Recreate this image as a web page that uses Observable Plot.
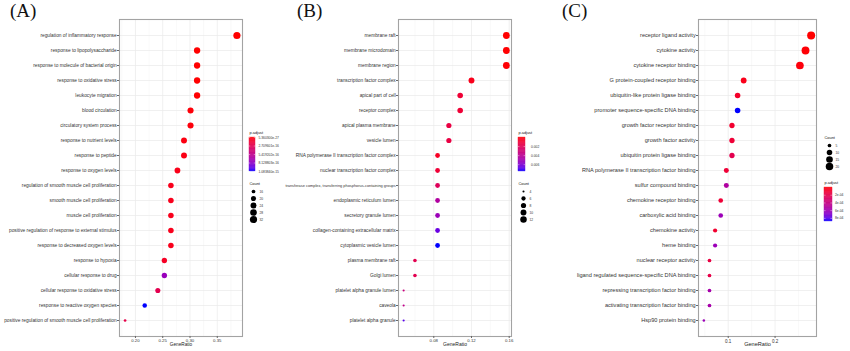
<!DOCTYPE html>
<html><head><meta charset="utf-8">
<script src="https://cdn.jsdelivr.net/npm/d3@7"></script>
<script src="https://cdn.jsdelivr.net/npm/@observablehq/plot@0.6"></script>
<style>
html,body{margin:0;padding:0;background:#fff;}
#root{position:relative;width:850px;height:351px;overflow:hidden;background:#fff;}
#root svg{position:absolute;}
.tag{position:absolute;font-family:"Liberation Serif","Times New Roman",serif;font-size:19px;line-height:normal;color:#111;white-space:nowrap;}
</style></head><body><div id="root"></div>
<script>
// ---------- Panel A: biological process ----------
const termsA = ["regulation of inflammatory response","response to lipopolysaccharide","response to molecule of bacterial origin","response to oxidative stress","leukocyte migration","blood circulation","circulatory system process","response to nutrient levels","response to peptide","response to oxygen levels","regulation of smooth muscle cell proliferation","smooth muscle cell proliferation","muscle cell proliferation","positive regulation of response to external stimulus","response to decreased oxygen levels","response to hypoxia","cellular response to drug","cellular response to oxidative stress","response to reactive oxygen species","positive regulation of smooth muscle cell proliferation"];
const ratioA = [0.386,0.313,0.313,0.313,0.313,0.301,0.301,0.289,0.289,0.277,0.265,0.265,0.265,0.265,0.265,0.253,0.253,0.241,0.217,0.181];
const countA = [32,26,26,26,26,25,25,24,24,23,22,22,22,22,22,21,21,20,18,15];
const padjA = [5.3603e-27,1e-20,1e-19,2e-18,3e-18,1.5e-17,2e-17,3e-17,4e-17,5e-17,6e-17,6e-17,6e-17,6e-17,6e-17,9e-17,7.8e-16,2.7e-16,1.0838404e-15,2.4e-16];
const xTicksA = [0.20,0.25,0.30,0.35];
const xMinorA = [0.175,0.225,0.275,0.325,0.375];
const sizeBreaksA = [16,20,24,28,32];
const colorTicksA = [5.3603e-27,2.709601e-16,5.419202e-16,8.128803e-16,1.0838404e-15];
const colorLabelsA = ["5.360300e-27","2.709601e-16","5.419202e-16","8.128803e-16","1.083840e-15"];

// ---------- Panel B: cellular component ----------
const termsB = ["membrane raft","membrane microdomain","membrane region","transcription factor complex","apical part of cell","receptor complex","apical plasma membrane","vesicle lumen","RNA polymerase II transcription factor complex","nuclear transcription factor complex","transferase complex, transferring phosphorus-containing groups","endoplasmic reticulum lumen","secretory granule lumen","collagen-containing extracellular matrix","cytoplasmic vesicle lumen","plasma membrane raft","Golgi lumen","platelet alpha granule lumen","caveola","platelet alpha granule"];
const ratioB = [0.157,0.157,0.157,0.120,0.108,0.108,0.096,0.096,0.084,0.084,0.084,0.084,0.084,0.084,0.084,0.060,0.060,0.048,0.048,0.048];
const countB = [13,13,13,10,9,9,8,8,7,7,7,7,7,7,7,5,5,4,4,4];
const padjB = [0.00001,0.00003,0.00006,0.0004,0.0011,0.0011,0.0015,0.0015,0.0006,0.0011,0.0022,0.0045,0.0053,0.0066,0.0075,0.0019,0.0019,0.0034,0.0038,0.0069];
const xTicksB = [0.08,0.12,0.16];
const xMinorB = [0.06,0.10,0.14];
const sizeBreaksB = [4,6,8,10,12];
const colorTicksB = [0.002,0.004,0.006];
const colorLabelsB = ["0.002","0.004","0.006"];

// ---------- Panel C: molecular function ----------
const termsC = ["receptor ligand activity","cytokine activity","cytokine receptor binding","G protein-coupled receptor binding","ubiquitin-like protein ligase binding","promoter sequence-specific DNA binding","growth factor receptor binding","growth factor activity","ubiquitin protein ligase binding","RNA polymerase II transcription factor binding","sulfur compound binding","chemokine receptor binding","carboxylic acid binding","chemokine activity","heme binding","nuclear receptor activity","ligand regulated sequence-specific DNA binding","repressing transcription factor binding","activating transcription factor binding","Hsp90 protein binding"];
const ratioC = [0.277,0.265,0.253,0.133,0.120,0.120,0.108,0.108,0.108,0.096,0.096,0.084,0.084,0.072,0.072,0.060,0.060,0.060,0.060,0.048];
const countC = [23,22,21,11,10,10,9,9,9,8,8,7,7,6,6,5,5,5,5,4];
const padjC = [0.000001,0.000009,0.000018,0.000044,0.000088,0.00088,0.000106,0.000132,0.00022,0.000132,0.00053,0.000132,0.00062,0.000106,0.00062,0.000176,0.000194,0.00057,0.00057,0.00062];
const xTicksC = [0.1,0.2];
const xMinorC = [0.05,0.15,0.25];
const sizeBreaksC = [5,10,15,20];
const colorTicksC = [0.0002,0.0004,0.0006,0.0008];
const colorLabelsC = ["2e-04","4e-04","6e-04","8e-04"];

const FONT = '"Liberation Sans", Arial, Helvetica, sans-serif';
const root = document.getElementById("root");

function place(svg, left, top) {
  svg.style.left = left + "px";
  svg.style.top = top + "px";
  root.appendChild(svg);
}

function makePanel(P) {
  const data = P.terms.map((t, i) => ({term: t, ratio: P.ratio[i], count: P.count[i], padj: P.padj[i]}));
  const [lo, hi] = d3.extent(P.ratio);
  const span = hi - lo;
  const cmin = d3.min(P.count), cmax = d3.max(P.count);
  const rScale = {type: "sqrt", domain: [0, cmax - cmin + 0.01], range: P.rr};
  const [pmin, pmax] = d3.extent(P.padj);
  const colorScale = {type: "linear", domain: [pmin, pmax], range: ["red", "blue"], interpolate: "lab"};
  const rOf = d => d - cmin + 0.01;
  const labelSize = t => (P.labelFs && P.labelFs[t]) || P.fsY;

  const main = Plot.plot({
    width: P.w, height: 351,
    marginLeft: P.ml, marginRight: 2, marginTop: 19, marginBottom: 15,
    style: {fontFamily: FONT, color: "#333", background: "transparent", overflow: "visible"},
    x: {domain: [lo - 0.05 * span, hi + 0.05 * span]},
    y: {type: "point", domain: P.terms, padding: 0.6},
    r: rScale,
    color: colorScale,
    marks: [
      Plot.ruleX(P.minor, {stroke: "#f3f3f3", strokeWidth: 0.5}),
      Plot.ruleX(P.ticks, {stroke: "#e9e9e9", strokeWidth: 0.7}),
      Plot.ruleY(P.terms, {stroke: "#e9e9e9", strokeWidth: 0.7}),
      Plot.frame({stroke: "#a3a3a3", strokeWidth: 1.1}),
      Plot.axisX({ticks: P.ticks, tickFormat: P.fmt, tickSize: 2, tickPadding: 0.8, fontSize: P.fsX, label: null, stroke: "#666"}),
      Plot.axisY({tickSize: 2, tickFormat: () => "", label: null, stroke: "#666"}),
      Plot.text(P.terms, {y: d => d, text: d => d, frameAnchor: "left", dx: -2.8, textAnchor: "end", fontSize: labelSize, fill: "#333"}),
      Plot.dot(data, {x: "ratio", y: "term", r: d => rOf(d.count), fill: "padj"}),
      Plot.text(["GeneRatio"], {text: d => d, frameAnchor: "bottom", dy: 9.5, fontSize: P.fsT, fill: "#222"})
    ]
  });
  place(main, P.left, 0);

  // colour bar legend
  const n = 60;
  const steps = d3.range(n).map(i => [pmin + (pmax - pmin) * i / n, pmin + (pmax - pmin) * (i + 1) / n]);
  const cb = Plot.plot({
    width: P.cb.w, height: P.cb.h, margin: 0,
    style: {fontFamily: FONT, color: "#222", background: "transparent", overflow: "visible"},
    x: {domain: [0, 1], range: P.cb.bx, axis: null},
    y: {domain: [pmin, pmax], range: P.cb.by, axis: null},
    color: colorScale,
    marks: [
      Plot.rect(steps, {x1: 0, x2: 1, y1: d => d[0], y2: d => d[1], fill: d => (d[0] + d[1]) / 2, stroke: d => (d[0] + d[1]) / 2, strokeWidth: 0.3}),
      Plot.ruleY(P.cTicks, {x1: 0, x2: 0.2, stroke: "white", strokeWidth: 0.4}),
      Plot.ruleY(P.cTicks, {x1: 0.8, x2: 1, stroke: "white", strokeWidth: 0.4}),
      Plot.text(P.cTicks, {x: 1, y: d => d, text: (d, i) => P.cLabels[i], dx: P.cb.ldx, textAnchor: "start", fontSize: 3.3, fill: "#333"}),
      Plot.text(["p.adjust"], {x: 0, y: pmin, text: d => d, dy: -4.5, textAnchor: "start", fontSize: 3.9, fill: "#111"})
    ]
  });
  place(cb, P.cb.left, P.cb.top);

  // size legend
  const sl = Plot.plot({
    width: P.sl.w, height: P.sl.h, margin: 0,
    style: {fontFamily: FONT, color: "#222", background: "transparent", overflow: "visible"},
    x: {domain: [0, 1], range: [P.sl.dx, P.sl.dx + 10], axis: null},
    y: {type: "point", domain: P.sBreaks, range: P.sl.sy, padding: 0, axis: null},
    r: rScale,
    marks: [
      Plot.dot(P.sBreaks, {x: 0, y: d => d, r: d => rOf(d), fill: "black"}),
      Plot.text(P.sBreaks, {x: 0, y: d => d, text: d => String(d), dx: P.sl.ldx, textAnchor: "start", fontSize: 3.3, fill: "#333"}),
      Plot.text(["Count"], {x: 0, y: P.sBreaks[0], text: d => d, dx: P.sl.tdx, dy: -8, textAnchor: "start", fontSize: 3.9, fill: "#111"})
    ]
  });
  place(sl, P.sl.left, P.sl.top);
}

makePanel({
  terms: termsA, ratio: ratioA, count: countA, padj: padjA,
  ticks: xTicksA, minor: xMinorA, fmt: d3.format(".2f"),
  left: 0, w: 244, ml: 119, fsX: 4.3, fsY: 4.8, fsT: 4.7, rr: [1.3, 3.6],
  sBreaks: sizeBreaksA, cTicks: colorTicksA, cLabels: colorLabelsA,
  cb: {left: 244, top: 128, w: 46, h: 46, bx: [5, 11], by: [9, 43], ldx: 3},
  sl: {left: 244, top: 176, w: 46, h: 50, dx: 9, sy: [14, 44], ldx: 6, tdx: -4}
});
makePanel({
  terms: termsB, ratio: ratioB, count: countB, padj: padjB,
  ticks: xTicksB, minor: xMinorB, fmt: d3.format(".2f"),
  labelFs: {"transferase complex, transferring phosphorus-containing groups": 3.9},
  left: 285, w: 228, ml: 113, fsX: 4.3, fsY: 4.8, fsT: 5.0, rr: [1.0, 3.4],
  sBreaks: sizeBreaksB, cTicks: colorTicksB, cLabels: colorLabelsB,
  cb: {left: 510, top: 128, w: 40, h: 46, bx: [8, 15], by: [9, 43], ldx: 5.5},
  sl: {left: 510, top: 176, w: 40, h: 50, dx: 13, sy: [14, 43], ldx: 6, tdx: -5}
});
makePanel({
  terms: termsC, ratio: ratioC, count: countC, padj: padjC,
  ticks: xTicksC, minor: xMinorC, fmt: d3.format(".1f"),
  left: 570, w: 248, ml: 128, fsX: 4.5, fsY: 5.6, fsT: 5.6, rr: [1.2, 4.0],
  sBreaks: sizeBreaksC, cTicks: colorTicksC, cLabels: colorLabelsC,
  cb: {left: 818, top: 176, w: 32, h: 50, bx: [6, 14], by: [11, 45], ldx: 2.5},
  sl: {left: 818, top: 128, w: 32, h: 45, dx: 11, sy: [16, 38], ldx: 6, tdx: -5}
});

[["(A)", 10], ["(B)", 297], ["(C)", 562]].forEach(([t, x]) => {
  const d = document.createElement("div");
  d.className = "tag";
  d.textContent = t;
  d.style.left = x + "px";
  d.style.top = "0px";
  root.appendChild(d);
});
</script>
</body></html>
